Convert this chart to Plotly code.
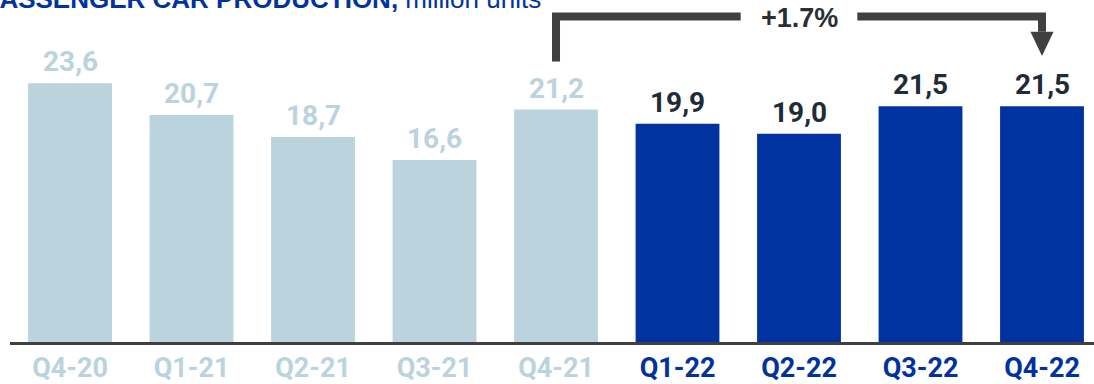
import plotly.graph_objects as go

# Quarterly passenger car production, million units
quarters = ["Q4-20", "Q1-21", "Q2-21", "Q3-21", "Q4-21", "Q1-22", "Q2-22", "Q3-22", "Q4-22"]
production = [23.6, 20.7, 18.7, 16.6, 21.2, 19.9, 19.0, 21.5, 21.5]
current_year = [False, False, False, False, False, True, True, True, True]
growth_label = "+1.7%"
growth_from, growth_to = 4, 8  # Q4-21 -> Q4-22

LIGHT = "#bad3dd"
BLUE = "#0033a0"
DARK_TEXT = "#1f2b36"
BRACKET = "#404040"

x_pos = list(range(len(quarters)))
bar_colors = [BLUE if c else LIGHT for c in current_year]
label_colors = [DARK_TEXT if c else LIGHT for c in current_year]
tick_colors = [BLUE if c else LIGHT for c in current_year]

fig = go.Figure(
    go.Bar(
        x=x_pos,
        y=production,
        width=0.69,
        marker=dict(color=bar_colors, line=dict(width=0)),
        hoverinfo="skip",
    )
)

# value labels above the bars
for xi, v, col in zip(x_pos, production, label_colors):
    fig.add_annotation(
        x=xi, y=v, xref="x", yref="y",
        text=f"{v:.1f}".replace(".", ","),
        showarrow=False, yanchor="bottom", yshift=3,
        font=dict(family="Roboto", size=28, color=col, weight="bold"),
    )

# bracket with the year-over-year change
y_top = 29.7
left_bottom = production[growth_from] + 4.4
arrow_base = 28.3
arrow_tip = production[growth_to] + 4.6
mid = (growth_from + growth_to) / 2
gap = 0.48
fig.add_shape(
    type="path", xref="x", yref="y",
    path=f"M {growth_from},{left_bottom} L {growth_from},{y_top} L {mid - gap},{y_top}",
    line=dict(color=BRACKET, width=8), fillcolor="rgba(0,0,0,0)",
)
fig.add_shape(
    type="path", xref="x", yref="y",
    path=f"M {mid + gap},{y_top} L {growth_to},{y_top} L {growth_to},{arrow_base}",
    line=dict(color=BRACKET, width=8), fillcolor="rgba(0,0,0,0)",
)
fig.add_shape(
    type="path", xref="x", yref="y",
    path=f"M {growth_to - 0.095},{arrow_base} L {growth_to + 0.095},{arrow_base} L {growth_to},{arrow_tip} Z",
    line=dict(color=BRACKET, width=0), fillcolor=BRACKET,
)
fig.add_annotation(
    x=mid, y=y_top, xref="x", yref="y", text=f"<b>{growth_label}</b>",
    showarrow=False, yanchor="middle", yshift=-2,
    font=dict(family="Liberation Sans", size=27, color="#2a2f33"),
)

# chart title
fig.add_annotation(
    x=-0.026, y=1 - 16 / 342, xref="paper", yref="paper",
    xanchor="left", yanchor="bottom", showarrow=False,
    text="<b>PASSENGER CAR PRODUCTION,</b> million units",
    font=dict(family="Liberation Sans", size=26, color=BLUE),
)

fig.update_layout(
    width=1094, height=384,
    margin=dict(l=10, r=0, t=0, b=42),
    paper_bgcolor="white", plot_bgcolor="white",
    showlegend=False,
    xaxis=dict(
        range=[-0.494, 8.428],
        tickvals=x_pos,
        ticktext=[f'<span style="color:{c}">{q}</span>' for q, c in zip(quarters, tick_colors)],
        tickfont=dict(family="Roboto", size=27, weight="bold"),
        showline=True, linecolor=BRACKET, linewidth=2.5,
        showgrid=False, zeroline=False, ticks="", ticklabelstandoff=0,
        automargin=False, fixedrange=True,
    ),
    yaxis=dict(
        range=[0, 31.2], visible=False, showgrid=False, zeroline=False,
        automargin=False, fixedrange=True,
    ),
)

fig.write_html("out.html")
